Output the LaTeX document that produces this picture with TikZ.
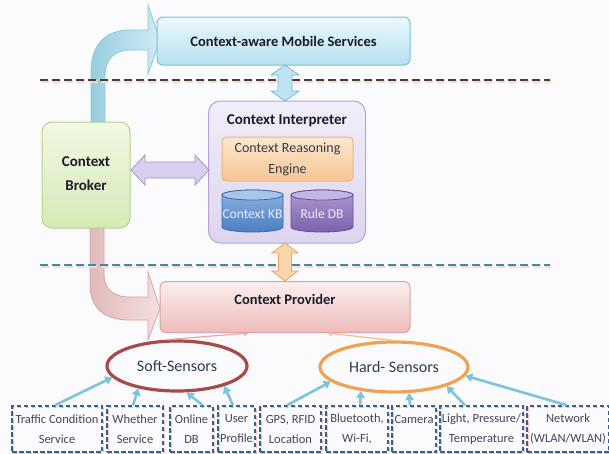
\documentclass[tikz,border=0pt]{standalone}
\usepackage{fontspec}
\setmainfont{Carlito}
\usetikzlibrary{arrows.meta,shapes.geometric}

\definecolor{bg}{HTML}{FBFBFD}
\definecolor{txtdark}{HTML}{1C1C28}
\definecolor{txtgrey}{HTML}{3A3A44}
\definecolor{mobtop}{HTML}{EAF8FD}
\definecolor{mobbot}{HTML}{B6E1EF}
\definecolor{mobline}{HTML}{74C3DD}
\definecolor{bentblue}{HTML}{B2DDEC}
\definecolor{bentblueline}{HTML}{8CC8DC}
\definecolor{bentpink}{HTML}{EDC4C4}
\definecolor{bentpinkline}{HTML}{D9A2A2}
\definecolor{inttop}{HTML}{F1EEF9}
\definecolor{intbot}{HTML}{DDD5EF}
\definecolor{intline}{HTML}{B4A5D6}
\definecolor{reatop}{HTML}{FCE7D0}
\definecolor{reabot}{HTML}{F6C594}
\definecolor{realine}{HTML}{F0B47C}
\definecolor{kbtop}{HTML}{8DB3E0}
\definecolor{kbbot}{HTML}{4C7EC2}
\definecolor{kbline}{HTML}{3A68A8}
\definecolor{kbcap}{HTML}{A9C6EA}
\definecolor{rdtop}{HTML}{AE9BD2}
\definecolor{rdbot}{HTML}{7A62AC}
\definecolor{rdline}{HTML}{64509A}
\definecolor{rdcap}{HTML}{C4B6E2}
\definecolor{brotop}{HTML}{F2F8E4}
\definecolor{brobot}{HTML}{D5E9B6}
\definecolor{broline}{HTML}{B4D38A}
\definecolor{provtop}{HTML}{FCEEEE}
\definecolor{provbot}{HTML}{EDBBBB}
\definecolor{provline}{HTML}{D9A3A3}
\definecolor{lavfill}{HTML}{D8CFEC}
\definecolor{lavline}{HTML}{A696CA}
\definecolor{cyanfill}{HTML}{BFE4F1}
\definecolor{cyanline}{HTML}{6FBCD6}
\definecolor{orfill}{HTML}{FAD6AE}
\definecolor{orline}{HTML}{E9A464}
\definecolor{dashdark}{HTML}{3E3E4E}
\definecolor{dashshadeA}{HTML}{F6DCC6}
\definecolor{dashteal}{HTML}{3C8BA8}
\definecolor{dashshadeB}{HTML}{F6DADA}
\definecolor{softred}{HTML}{A84A4A}
\definecolor{hardorange}{HTML}{F0A254}
\definecolor{ellipsetext}{HTML}{2C3C52}
\definecolor{sbline}{HTML}{3A5F8A}
\definecolor{sbshade}{HTML}{F2BDBD}
\definecolor{sbtext}{HTML}{45455A}
\definecolor{feedblue}{HTML}{7CC3DD}
\definecolor{thinpink}{HTML}{E6AAAA}
\definecolor{thinorange}{HTML}{F4BD86}

\begin{document}
\begin{tikzpicture}[x=1pt,y=-1pt,
  titletext/.style={font=\fontsize{14.5}{17}\selectfont\bfseries, text=txtdark, inner sep=0pt},
  panel/.style={rounded corners=6pt, line width=1pt, inner sep=0pt},
  sensorbox/.style={draw=sbline, dash pattern=on 4.5pt off 2.5pt, line width=1.5pt,
    minimum height=46pt, inner sep=0pt, align=center, text=sbtext,
    font=\fontsize{12.5}{20}\selectfont,
    preaction={draw=sbshade, dash pattern=on 4.5pt off 2.5pt, line width=1.5pt,
      transform canvas={xshift=1.3pt,yshift=-1.3pt}}},
  sensorring/.style={ellipse, line width=3.2pt, inner sep=0pt, minimum height=50pt,
    text=ellipsetext, font=\fontsize{16}{18}\selectfont},
  feed/.style={draw=feedblue, line width=2.6pt, -{Triangle[length=7pt,width=8.5pt]}},
]
\useasboundingbox (0,0) rectangle (609,453);
\fill[bg] (0,0) rectangle (609,453);

% bent arrow from the broker up to the services
\path[draw=bentblueline, line width=0.8pt, left color=bentblueline!90!white, right color=bentblue!60!white]
  (91,125) -- (91,72) .. controls (91,45) and (105,30) .. (130,30) -- (148,30)
  -- (148,5) -- (160,40) -- (148,74) -- (148,50) -- (130,50)
  .. controls (114,50) and (105,60) .. (105,76) -- (105,125) -- cycle;

% bent arrow from the broker down to the provider
\path[draw=bentpinkline, line width=0.8pt, left color=bentpink!95!black, right color=bentpink!55!white]
  (90,226) -- (90,284) .. controls (90,308) and (104,320) .. (130,320) -- (148,320)
  -- (148,340) -- (160,308.5) -- (148,272) -- (148,297) -- (130,297)
  .. controls (114,297) and (104,290) .. (104,274) -- (104,226) -- cycle;

% layer separators
\draw[line width=2.2pt, draw=dashshadeA, dash pattern=on 8pt off 4pt] (41,81.5) -- (551,81.5);
\draw[line width=2.2pt, draw=dashdark, dash pattern=on 8pt off 4pt] (40,80) -- (550,80);
\draw[line width=2.2pt, draw=dashshadeB, dash pattern=on 8pt off 4pt] (41,266.5) -- (551,266.5);
\draw[line width=2.2pt, draw=dashteal, dash pattern=on 8pt off 4pt] (40,265) -- (550,265);

% application layer
\node[panel, draw=mobline, top color=mobtop, bottom color=mobbot,
  minimum width=253pt, minimum height=48pt] (mobile) at (283.5,41) {};
\node[titletext] at (mobile.center) {Context-aware Mobile Services};

% interpreter with its reasoning engine and stores
\node[panel, rounded corners=12pt, draw=intline, top color=inttop, bottom color=intbot,
  minimum width=157pt, minimum height=142pt] (interp) at (287,172) {};
\node[titletext, font=\fontsize{15}{17}\selectfont\bfseries] (interptitle) at (287,121) {Context Interpreter};
\node[panel, rounded corners=4pt, draw=realine, top color=reatop, bottom color=reabot,
  minimum width=131pt, minimum height=44pt, align=center, text=txtgrey,
  font=\fontsize{14}{21}\selectfont] (reason) at (287.5,159) {Context Reasoning\\Engine};

% Context KB cylinder
\path[draw=kbline, line width=0.8pt, top color=kbtop, bottom color=kbbot]
  (222,195) -- (222,227) arc[start angle=180, end angle=0, x radius=30.5, y radius=5]
  -- (283,195) arc[start angle=0, end angle=-180, x radius=30.5, y radius=5] -- cycle;
\path[draw=kbline, line width=0.8pt, fill=kbcap] (252.5,195) ellipse[x radius=30.5, y radius=5];
\node[inner sep=0pt, text=white!92!blue, font=\fontsize{13.5}{16}\selectfont] (kb) at (252.5,214) {Context KB};

% Rule DB cylinder
\path[draw=rdline, line width=0.8pt, top color=rdtop, bottom color=rdbot]
  (291,195) -- (291,227) arc[start angle=180, end angle=0, x radius=31, y radius=5]
  -- (353,195) arc[start angle=0, end angle=-180, x radius=31, y radius=5] -- cycle;
\path[draw=rdline, line width=0.8pt, fill=rdcap] (322,195) ellipse[x radius=31, y radius=5];
\node[inner sep=0pt, text=white!92!violet, font=\fontsize{13.5}{16}\selectfont] (rule) at (322,214) {Rule DB};

% broker
\node[panel, rounded corners=10pt, draw=broline, top color=brotop, bottom color=brobot,
  minimum width=88pt, minimum height=106pt] (broker) at (86,175) {};
\node[titletext, align=center, font=\fontsize{15}{24}\selectfont\bfseries] at (86,174) {Context\\Broker};

% provider
\node[panel, draw=provline, top color=provtop, bottom color=provbot,
  minimum width=250pt, minimum height=51pt] (prov) at (285,307) {};
\node[titletext] at (285,299) {Context Provider};

% fat double arrows between layers
\path[draw=cyanline, line width=0.8pt, fill=cyanfill]
  (285,65) -- (299,75) -- (292,75) -- (292,91) -- (299,91) -- (285,101)
  -- (271,91) -- (278,91) -- (278,75) -- (271,75) -- cycle;
\path[draw=orline, line width=0.8pt, fill=orfill]
  (285,243) -- (298,253) -- (291.5,253) -- (291.5,271) -- (298,271) -- (285,281)
  -- (272,271) -- (278.5,271) -- (278.5,253) -- (272,253) -- cycle;
\path[draw=lavline, line width=0.8pt, fill=lavfill]
  (131,170) -- (145,155) -- (145,162) -- (195,162) -- (195,155) -- (209,170)
  -- (195,185) -- (195,178) -- (145,178) -- (145,185) -- cycle;

% sensor groups
\node[sensorring, draw=softred, minimum width=140pt] (soft) at (177,366) {Soft-Sensors};
\node[sensorring, draw=hardorange, minimum width=148pt] (hard) at (394,367) {Hard- Sensors};

\draw[draw=thinpink, line width=1.2pt, -{Triangle[length=5pt,width=5pt]}]
  (soft.112) -- ([xshift=-36pt]prov.south);
\draw[draw=thinorange, line width=1.2pt, -{Triangle[length=5pt,width=5pt]}]
  (hard.92) -- ([xshift=42pt]prov.south);

% individual sources
\node[sensorbox, minimum width=90pt] (traffic) at (57,429) {Traffic Condition\\Service};
\node[sensorbox, minimum width=56pt] (weather) at (135,429) {Whether\\Service};
\node[sensorbox, minimum width=43pt] (online) at (191.5,429) {Online\\DB};
\node[sensorbox, minimum width=37pt] (profile) at (236.5,429) {User\\Profile};
\node[sensorbox, minimum width=61pt] (gps) at (290.5,429) {GPS, RFID\\Location};
\node[sensorbox, minimum width=62pt] (bt) at (357,429) {Bluetooth,\\Wi-Fi,};
\node[sensorbox, minimum width=44pt] (camera) at (414,429) {Camera\\\phantom{C}};
\node[sensorbox, minimum width=83pt] (light) at (481.5,429) {Light, Pressure/\\Temperature};
\node[sensorbox, minimum width=82pt] (network) at (568,429) {Network\\(WLAN/WLAN)};

\draw[feed] ([xshift=-2pt]traffic.north) -- (soft.190);
\draw[feed] ([xshift=-2pt]weather.north) -- (soft.210);
\draw[feed] ([xshift=11pt]online.north) -- (soft.290);
\draw[feed] ([xshift=-3.5pt]profile.north) -- (soft.337);
\draw[feed] ([xshift=-3.5pt]gps.north) -- (hard.193);
\draw[feed] ([xshift=3pt]bt.north) -- (hard.216);
\draw[feed] ([xshift=-4pt]camera.north) -- (hard.300);
\draw[feed] ([xshift=-16.5pt]light.north) -- (hard.340);
\draw[feed] ([xshift=-1pt]network.north) -- (hard.353);
\end{tikzpicture}
\end{document}
